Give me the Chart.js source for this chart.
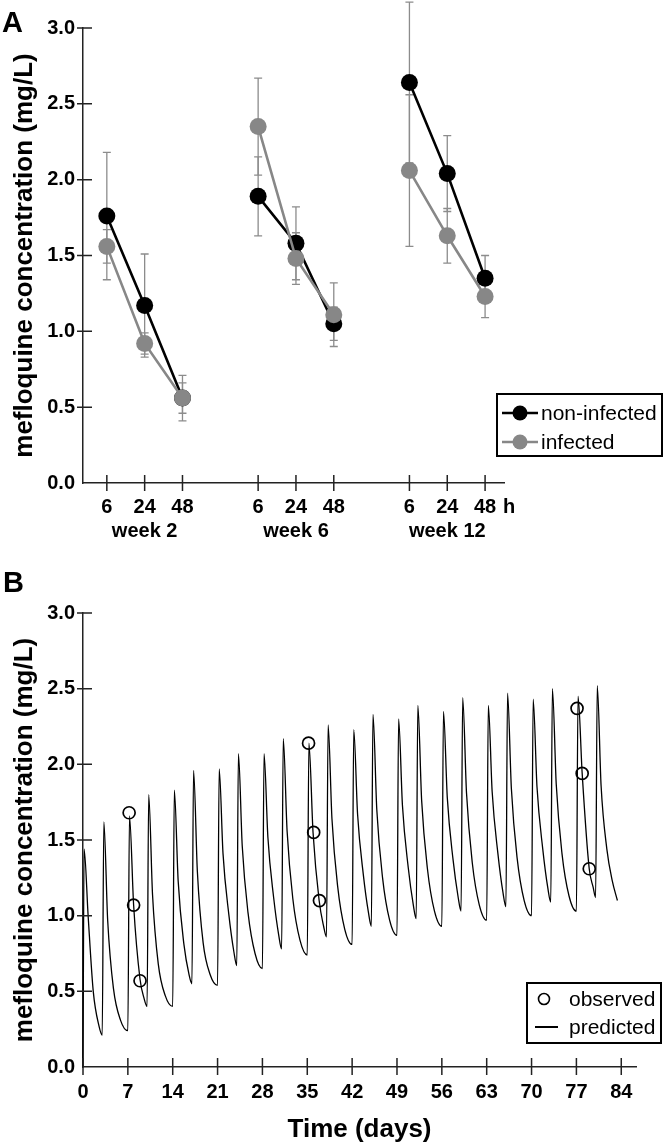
<!DOCTYPE html>
<html>
<head>
<meta charset="utf-8">
<script src="https://cdn.jsdelivr.net/npm/chart.js@4.4.1/dist/chart.umd.min.js"></script>
<style>
html,body{margin:0;padding:0;background:#fff;}
#chartA{position:absolute;left:0;top:0;}
#chartB{position:absolute;left:0;top:560px;}
</style>
</head>
<body>
<canvas id="chartA" width="664" height="560"></canvas>
<canvas id="chartB" width="664" height="587"></canvas>
<script>
// ---------- Panel A data ----------
const timeLabels = ['6', '24', '48'];
const timeUnit = 'h';
const weekLabels = ['week 2', 'week 6', 'week 12'];
const samplePositions = [1, 2, 3, 5, 6, 7, 9, 10, 11];
const nonInfected   = [1.76, 1.17, 0.56, 1.89, 1.58, 1.05, 2.64, 2.04, 1.35];
const nonInfectedSD = [0.42, 0.34, 0.15, 0.26, 0.24, 0.11, 0.53, 0.25, 0.15];
const infected      = [1.56, 0.92, 0.56, 2.35, 1.48, 1.11, 2.06, 1.63, 1.23];
const infectedSD    = [0.11, 0.07, 0.10, 0.32, 0.17, 0.21, 0.50, 0.18, 0.14];
const concTicks = [0, 0.5, 1.0, 1.5, 2.0, 2.5, 3.0];

// ---------- Panel B data ----------
const dayTicks = [0, 7, 14, 21, 28, 35, 42, 49, 56, 63, 70, 77, 84];
const observedDays = [7.2, 7.9, 8.9, 35.2, 36.0, 36.9, 77.1, 77.9, 79.0];
const observedConc = [1.68, 1.07, 0.57, 2.14, 1.55, 1.10, 2.37, 1.94, 1.31];
const predictedDays = [
  0, 0.17, 0.8, 1.6, 2.5, 3.0, 3.25, 3.85, 4.75, 5.85,
  7.0, 7.25, 7.9, 8.9, 9.55, 10.0, 10.25, 10.85, 11.75, 12.85,
  14.0, 14.25, 14.85, 15.75, 16.55, 17.0, 17.25, 17.85, 18.75, 19.85,
  21.0, 21.25, 21.85, 22.75, 23.55, 24.0, 24.25, 24.85, 25.75, 26.85,
  28.0, 28.25, 28.85, 29.75, 30.55, 31.0, 31.25, 31.85, 32.75, 33.85,
  35.0, 35.25, 35.9, 36.85, 37.55, 38.0, 38.25, 38.85, 39.75, 40.85,
  42.0, 42.25, 42.85, 43.75, 44.55, 45.0, 45.25, 45.85, 46.75, 47.85,
  49.0, 49.25, 49.85, 50.75, 51.55, 52.0, 52.25, 52.85, 53.75, 54.85,
  56.0, 56.25, 56.85, 57.75, 58.55, 59.0, 59.25, 59.85, 60.75, 61.85,
  63.0, 63.25, 63.85, 64.75, 65.55, 66.0, 66.25, 66.85, 67.75, 68.85,
  70.0, 70.25, 70.85, 71.75, 72.55, 73.0, 73.25, 73.85, 74.75, 75.85,
  77.0, 77.25, 77.9, 79.0, 79.6, 80.0, 80.25, 80.85, 81.75, 82.6,
  83.4
];
const predictedConc = [
  0, 1.44, 1.00, 0.50, 0.27, 0.21, 1.62, 0.97, 0.52, 0.31,
  0.24, 1.66, 1.07, 0.58, 0.45, 0.40, 1.80, 1.14, 0.68, 0.47,
  0.40, 1.83, 1.23, 0.81, 0.61, 0.55, 1.96, 1.29, 0.82, 0.61,
  0.54, 1.97, 1.41, 1.01, 0.76, 0.67, 2.07, 1.46, 1.02, 0.75,
  0.65, 2.07, 1.52, 1.12, 0.87, 0.78, 2.17, 1.56, 1.11, 0.84,
  0.74, 2.14, 1.55, 1.10, 0.93, 0.86, 2.26, 1.64, 1.19, 0.91,
  0.81, 2.23, 1.67, 1.27, 1.02, 0.93, 2.33, 1.70, 1.25, 0.97,
  0.87, 2.30, 1.73, 1.32, 1.07, 0.98, 2.39, 1.76, 1.31, 1.03,
  0.93, 2.35, 1.78, 1.37, 1.12, 1.03, 2.44, 1.81, 1.35, 1.07,
  0.97, 2.39, 1.82, 1.41, 1.15, 1.06, 2.47, 1.84, 1.38, 1.10,
  1.00, 2.43, 1.85, 1.44, 1.18, 1.09, 2.50, 1.87, 1.41, 1.13,
  1.03, 2.45, 1.94, 1.31, 1.19, 1.12, 2.52, 1.86, 1.44, 1.23,
  1.10
];

// ---------- styling ----------
const FONT = "'Liberation Sans', Arial, Helvetica, sans-serif";
const BLACK = '#000000';
const GREY = '#878787';
const ERR_GREY = '#8c8c8c';
const AXIS = '#222222';

function groupedSeries(values, sds) {
  const out = [];
  values.forEach((v, i) => {
    if (i > 0 && i % 3 === 0) out.push({x: samplePositions[i] - 1, y: null});
    out.push({x: samplePositions[i], y: v, sd: sds[i]});
  });
  return out;
}

// ---------- plugins ----------
const errorBars = {
  id: 'errorBars',
  beforeDatasetsDraw(chart, args, o) {
    if (!o || !o.enabled) return;
    const {ctx} = chart;
    const xs = chart.scales.x, ys = chart.scales.y;
    ctx.save();
    ctx.strokeStyle = o.color;
    ctx.lineWidth = o.width;
    chart.data.datasets.forEach(ds => {
      ds.data.forEach(p => {
        if (p.y == null || p.sd == null) return;
        const px = xs.getPixelForValue(p.x);
        const top = ys.getPixelForValue(p.y + p.sd);
        const bot = ys.getPixelForValue(p.y - p.sd);
        ctx.beginPath();
        ctx.moveTo(px, top); ctx.lineTo(px, bot);
        ctx.moveTo(px - o.cap, top); ctx.lineTo(px + o.cap, top);
        ctx.moveTo(px - o.cap, bot); ctx.lineTo(px + o.cap, bot);
        ctx.stroke();
      });
    });
    ctx.restore();
  }
};

const crossTicks = {
  id: 'crossTicks',
  afterDatasetsDraw(chart, args, o) {
    if (!o || !o.enabled) return;
    const {ctx, chartArea} = chart;
    const xs = chart.scales.x, ys = chart.scales.y;
    ctx.save();
    ctx.strokeStyle = AXIS;
    ctx.lineWidth = 1.5;
    ctx.beginPath();
    xs.ticks.forEach(t => {
      const px = xs.getPixelForValue(t.value);
      ctx.moveTo(px, chartArea.bottom - o.xIn);
      ctx.lineTo(px, chartArea.bottom + o.xOut);
    });
    ys.ticks.forEach(t => {
      if (t.value === 0) return;
      const py = ys.getPixelForValue(t.value);
      ctx.moveTo(chartArea.left - o.yOut, py);
      ctx.lineTo(chartArea.left + o.yIn, py);
    });
    ctx.stroke();
    if (o.unit) {
      const px = xs.getPixelForValue(xs.ticks[xs.ticks.length - 1].value);
      ctx.fillStyle = BLACK;
      ctx.font = 'bold 20px ' + FONT;
      ctx.textAlign = 'left';
      ctx.textBaseline = 'middle';
      ctx.fillText(o.unit, px + 18, chartArea.bottom + o.unitDy);
    }
    ctx.restore();
  }
};

const panelLabel = {
  id: 'panelLabel',
  afterDraw(chart, args, o) {
    if (!o || !o.text) return;
    const {ctx} = chart;
    ctx.save();
    ctx.fillStyle = BLACK;
    ctx.font = 'bold 29px ' + FONT;
    ctx.textAlign = 'left';
    ctx.textBaseline = 'alphabetic';
    ctx.fillText(o.text, o.x, o.y);
    ctx.restore();
  }
};

const boxLegend = {
  id: 'boxLegend',
  afterDraw(chart, args, o) {
    if (!o || !o.items) return;
    const {ctx} = chart;
    ctx.save();
    ctx.strokeStyle = BLACK;
    ctx.lineWidth = 2;
    ctx.strokeRect(o.box[0], o.box[1], o.box[2], o.box[3]);
    ctx.font = '21px ' + FONT;
    ctx.textAlign = 'left';
    ctx.textBaseline = 'middle';
    o.items.forEach((it, i) => {
      const y = o.rowY + i * o.rowGap;
      if (it.line) {
        ctx.strokeStyle = it.color;
        ctx.lineWidth = it.lineWidth;
        ctx.beginPath();
        ctx.moveTo(it.line[0], y); ctx.lineTo(it.line[1], y);
        ctx.stroke();
      }
      if (it.dot) {
        ctx.fillStyle = it.color;
        ctx.beginPath();
        ctx.arc(it.dot[0], y, it.dot[1], 0, Math.PI * 2);
        ctx.fill();
      }
      if (it.ring) {
        ctx.strokeStyle = it.color;
        ctx.lineWidth = 1.6;
        ctx.beginPath();
        ctx.arc(it.ring[0], y, it.ring[1], 0, Math.PI * 2);
        ctx.stroke();
      }
      ctx.fillStyle = BLACK;
      ctx.fillText(it.text, o.textX, y + 1);
    });
    ctx.restore();
  }
};

Chart.register(errorBars, crossTicks, panelLabel, boxLegend);

const yAxisCommon = {
  type: 'linear',
  min: 0,
  max: 3,
  afterBuildTicks: s => { s.ticks = concTicks.map(v => ({value: v})); },
  afterFit: s => { s.width = 83; },
  grid: {display: false, drawTicks: false},
  border: {display: true, color: AXIS, width: 1.5},
  ticks: {
    color: BLACK,
    padding: 8,
    font: {family: FONT, size: 20, weight: 'bold'},
    callback: v => Number(v).toFixed(1)
  },
  title: {
    display: true,
    text: 'mefloquine concentration (mg/L)',
    color: BLACK,
    font: {family: FONT, size: 26, weight: 'bold'},
    padding: {top: 9, bottom: 0}
  }
};

// ---------- Chart A ----------
new Chart(document.getElementById('chartA'), {
  type: 'line',
  data: {
    datasets: [
      {
        label: 'non-infected',
        data: groupedSeries(nonInfected, nonInfectedSD),
        borderColor: BLACK,
        backgroundColor: BLACK,
        borderWidth: 2.6,
        pointRadius: 8.5,
        pointHoverRadius: 8.5,
        pointBorderWidth: 0,
        spanGaps: false,
        order: 1
      },
      {
        label: 'infected',
        data: groupedSeries(infected, infectedSD),
        borderColor: GREY,
        backgroundColor: GREY,
        borderWidth: 2.6,
        pointRadius: 8.5,
        pointHoverRadius: 8.5,
        pointBorderWidth: 0,
        spanGaps: false,
        order: 0
      }
    ]
  },
  options: {
    responsive: false,
    animation: false,
    devicePixelRatio: 1,
    layout: {padding: {left: 0, top: 28, right: 160, bottom: 17}},
    plugins: {
      legend: {display: false},
      tooltip: {enabled: false},
      errorBars: {enabled: true, color: ERR_GREY, width: 1.3, cap: 4},
      crossTicks: {enabled: true, xIn: 8, xOut: 8, yIn: 9, yOut: 6, unit: timeUnit, unitDy: 24},
      panelLabel: {text: 'A', x: 2, y: 32},
      boxLegend: {
        box: [497, 394, 165, 62],
        rowY: 413, rowGap: 29, textX: 541,
        items: [
          {text: 'non-infected', color: BLACK, line: [502, 538], lineWidth: 2.6, dot: [520, 7.5]},
          {text: 'infected', color: GREY, line: [502, 538], lineWidth: 2.6, dot: [520, 7.5]}
        ]
      }
    },
    scales: {
      x: {
        type: 'linear',
        min: 0.37,
        max: 11.5,
        afterBuildTicks: s => { s.ticks = samplePositions.map(v => ({value: v})); },
        afterFit: s => { s.height = 60; },
        grid: {display: false, drawTicks: false},
        border: {display: true, color: AXIS, width: 1.5},
        ticks: {
          color: BLACK,
          padding: 12,
          autoSkip: false,
          maxRotation: 0,
          font: {family: FONT, size: 20, weight: 'bold', lineHeight: 24 / 20},
          callback: v => {
            const i = samplePositions.indexOf(v);
            if (i < 0) return '';
            const t = timeLabels[i % 3];
            return i % 3 === 1 ? [t, weekLabels[Math.floor(i / 3)]] : t;
          }
        }
      },
      y: yAxisCommon
    }
  }
});

// ---------- Chart B ----------
new Chart(document.getElementById('chartB'), {
  type: 'scatter',
  data: {
    datasets: [
      {
        type: 'scatter',
        label: 'observed',
        data: observedDays.map((d, i) => ({x: d, y: observedConc[i]})),
        pointStyle: 'circle',
        pointRadius: 6,
        pointHoverRadius: 6,
        pointBorderWidth: 1.7,
        borderColor: BLACK,
        backgroundColor: 'rgba(0,0,0,0)',
        order: 0,
        clip: false
      },
      {
        type: 'line',
        label: 'predicted',
        data: predictedDays.map((d, i) => ({x: d, y: predictedConc[i]})),
        borderColor: BLACK,
        borderWidth: 1.3,
        pointRadius: 0,
        cubicInterpolationMode: 'monotone',
        fill: false,
        order: 1,
        clip: false
      }
    ]
  },
  options: {
    responsive: false,
    animation: false,
    devicePixelRatio: 1,
    layout: {padding: {left: 0, top: 53, right: 28, bottom: 0}},
    plugins: {
      legend: {display: false},
      tooltip: {enabled: false},
      crossTicks: {enabled: true, xIn: 9, xOut: 8, yIn: 9, yOut: 6},
      panelLabel: {text: 'B', x: 3, y: 32},
      boxLegend: {
        box: [527, 423, 134, 60],
        rowY: 439, rowGap: 28, textX: 569,
        items: [
          {text: 'observed', color: BLACK, ring: [544, 5.5]},
          {text: 'predicted', color: BLACK, line: [535, 558], lineWidth: 2}
        ]
      }
    },
    scales: {
      x: {
        type: 'linear',
        min: 0,
        max: 86.3,
        afterBuildTicks: s => { s.ticks = dayTicks.map(v => ({value: v})); },
        afterFit: s => { s.height = 80; },
        grid: {display: false, drawTicks: false},
        border: {display: true, color: AXIS, width: 1.5},
        ticks: {
          color: BLACK,
          padding: 13,
          autoSkip: false,
          maxRotation: 0,
          font: {family: FONT, size: 20, weight: 'bold'},
          callback: v => String(v)
        },
        title: {
          display: true,
          text: 'Time (days)',
          color: BLACK,
          font: {family: FONT, size: 26, weight: 'bold'},
          padding: {top: 0, bottom: 2}
        }
      },
      y: yAxisCommon
    }
  }
});
</script>
</body>
</html>
